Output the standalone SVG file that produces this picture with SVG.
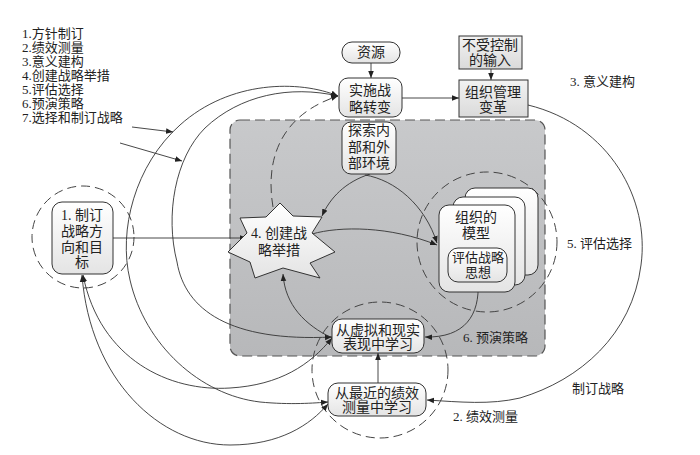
<svg xmlns="http://www.w3.org/2000/svg" width="700" height="455" viewBox="0 0 700 455">
<style>
text{font-family:"Liberation Serif","Noto Sans CJK SC",serif;fill:#222;}
.t14{font-size:14px;text-anchor:middle;}
.t13{font-size:13px;text-anchor:middle;}
.lbl{font-size:13px;}
.node{fill:url(#ng);stroke:#333;stroke-width:1;}
.box{fill:url(#bg);stroke:#333;stroke-width:1;}
.ln{fill:none;stroke:#333;stroke-width:0.9;}
.dash{fill:none;stroke:#444;stroke-width:1;stroke-dasharray:9,5;}
</style>
<defs>
<linearGradient id="ng" x1="0" y1="0" x2="0" y2="1"><stop offset="0" stop-color="#ffffff"/><stop offset="1" stop-color="#e4e4e4"/></linearGradient>
<linearGradient id="bg" x1="0" y1="0" x2="0" y2="1"><stop offset="0" stop-color="#f2f2f2"/><stop offset="1" stop-color="#dadada"/></linearGradient>
<linearGradient id="sg" x1="0" y1="0" x2="0" y2="1"><stop offset="0" stop-color="#c8c9cb"/><stop offset="1" stop-color="#b7b8ba"/></linearGradient>
<marker id="arr" viewBox="0 0 10 10" refX="10" refY="5" markerWidth="7" markerHeight="7" orient="auto-start-reverse" markerUnits="userSpaceOnUse"><path d="M0,1 L10,5 L0,9 z" fill="#222"/></marker>
</defs>

<!-- shaded region -->
<rect id="rehearse-area" x="230" y="120" width="315" height="236" rx="10" fill="url(#sg)" stroke="#555" stroke-width="1.2" stroke-dasharray="10,5"/>

<!-- dashed circles -->
<g id="circles">
<circle cx="83" cy="237" r="51" class="dash"/>
<circle cx="487" cy="242" r="70" class="dash"/>
<circle cx="380" cy="370" r="68" class="dash"/>
</g>

<!-- connectors -->
<g id="connectors">
<line x1="371" y1="63" x2="371" y2="78" class="ln" marker-end="url(#arr)"/>
<line x1="491" y1="69" x2="491" y2="80" class="ln" marker-end="url(#arr)"/>
<line x1="402" y1="98" x2="459" y2="98" class="ln" marker-end="url(#arr)"/>
<line x1="132" y1="127" x2="173" y2="132" class="ln" marker-end="url(#arr)"/>
<line x1="120" y1="143" x2="182" y2="161" class="ln" marker-end="url(#arr)"/>
<!-- outer arc -->
<path d="M338,96 C300,80 230,80 180,125 C135,165 118,230 130,280 C145,345 200,395 260,402 C290,405 315,403 328,402" class="ln" marker-start="url(#arr)" marker-end="url(#arr)"/>
<!-- inner arc -->
<path d="M338,96 C290,85 240,95 205,128 C175,158 165,215 177,262 C185,310 230,342 332,337" class="ln" marker-start="url(#arr)" marker-end="url(#arr)"/>
<!-- goal to learning -->
<path d="M83,275 C100,360 170,392 230,388 C280,385 310,365 332,338" class="ln" marker-start="url(#arr)" marker-end="url(#arr)"/>
<path d="M82,275 C90,380 160,445 230,445 C280,445 310,425 328,404" class="ln" marker-start="url(#arr)" marker-end="url(#arr)"/>
<!-- goal to star -->
<line x1="113" y1="238" x2="247" y2="238" class="ln" marker-end="url(#arr)"/>
<!-- dashed star to implement -->
<path d="M273,207 C265,160 280,115 338,96" class="dash" marker-end="url(#arr)"/>
<!-- explore to star -->
<path d="M370,174 C345,182 330,198 322,216" class="ln" marker-end="url(#arr)"/>
<!-- explore to model -->
<path d="M365,175 C395,180 425,205 437,243" class="ln" marker-end="url(#arr)"/>
<!-- star to model -->
<path d="M312,234 C340,226 390,226 437,245" class="ln" marker-end="url(#arr)"/>
<!-- virtual to star -->
<path d="M332,338 C305,325 285,305 283,274" class="ln" marker-end="url(#arr)"/>
<!-- evaluate to virtual -->
<path d="M478,282 C480,315 465,338 425,337" class="ln" marker-end="url(#arr)"/>
<!-- recent to virtual -->
<line x1="378" y1="383" x2="378" y2="353" class="ln" marker-end="url(#arr)"/>
<!-- org change big arc to recent -->
<path d="M528,105 C610,125 650,200 641,265 C632,335 580,380 520,398 C490,405 460,402 427,400" class="ln" marker-end="url(#arr)"/>
</g>

<!-- nodes -->
<g id="n-resource"><rect x="342" y="42" width="58" height="21" rx="10" class="node"/><text x="371" y="57" class="t14">资源</text></g>
<g id="n-implement"><rect x="339" y="78" width="63" height="39" rx="9" class="node"/><text x="370" y="95" class="t14">实施战</text><text x="370" y="112" class="t14">略转变</text></g>
<g id="n-uncontrolled"><rect x="459" y="36" width="63" height="33" class="box"/><text x="490" y="50" class="t14">不受控制</text><text x="490" y="65" class="t14">的输入</text></g>
<g id="n-orgchange"><rect x="459" y="80" width="69" height="37" class="box"/><text x="493" y="97" class="t14">组织管理</text><text x="493" y="112" class="t14">变革</text></g>
<g id="n-explore"><rect x="342" y="122" width="54" height="52" rx="9" class="node"/><text x="369" y="135" class="t14">探索内</text><text x="369" y="152" class="t14">部和外</text><text x="369" y="168" class="t14">部环境</text></g>
<g id="n-star"><path d="M280,203 L293,216 L322,217 L312,233 L335,252 L310,263 L320,278 L283,268 L255,278 L250,262 L228,252 L247,233 L240,218 L266,217 Z" fill="url(#ng)" stroke="#333" stroke-width="1"/><text x="279" y="238" class="t14">4. 创建战</text><text x="279" y="255" class="t14">略举措</text></g>
<g id="n-model">
<rect x="465" y="188" width="73" height="87" rx="10" class="node"/>
<rect x="453" y="197" width="72" height="88" rx="10" class="node"/>
<rect x="439" y="205" width="76" height="87" rx="10" class="node"/>
<text x="476" y="222" class="t14">组织的</text><text x="476" y="238" class="t14">模型</text>
</g>
<g id="n-evaluate"><rect x="448" y="248" width="59" height="34" rx="10" class="node"/><text x="478" y="262" class="t13">评估战略</text><text x="478" y="277" class="t13">思想</text></g>
<g id="n-goal"><rect x="52" y="202" width="61" height="72" rx="10" class="node"/><text x="82" y="220" class="t14">1. 制订</text><text x="82" y="236" class="t14">战略方</text><text x="82" y="252" class="t14">向和目</text><text x="82" y="267" class="t14">标</text></g>
<g id="n-virtual"><rect x="332" y="319" width="92" height="34" rx="10" class="node"/><text x="378" y="335" class="t14">从虚拟和现实</text><text x="378" y="349" class="t14">表现中学习</text></g>
<g id="n-recent"><rect x="328" y="383" width="98" height="33" rx="10" class="node"/><text x="377" y="398" class="t14">从最近的绩效</text><text x="377" y="412" class="t14">测量中学习</text></g>

<!-- labels -->
<g id="labels">
<text x="22" y="38" class="lbl">1.方针制订</text>
<text x="22" y="52" class="lbl">2.绩效测量</text>
<text x="22" y="66" class="lbl">3.意义建构</text>
<text x="22" y="80" class="lbl">4.创建战略举措</text>
<text x="22" y="94" class="lbl">5.评估选择</text>
<text x="22" y="108" class="lbl">6.预演策略</text>
<text x="22" y="122" class="lbl">7.选择和制订战略</text>
<text x="570" y="86" class="lbl">3. 意义建构</text>
<text x="567" y="248" class="lbl">5. 评估选择</text>
<text x="572" y="393" class="lbl">制订战略</text>
<text x="453" y="421" class="lbl">2. 绩效测量</text>
<text x="463" y="342" class="lbl">6. 预演策略</text>
</g>
</svg>
